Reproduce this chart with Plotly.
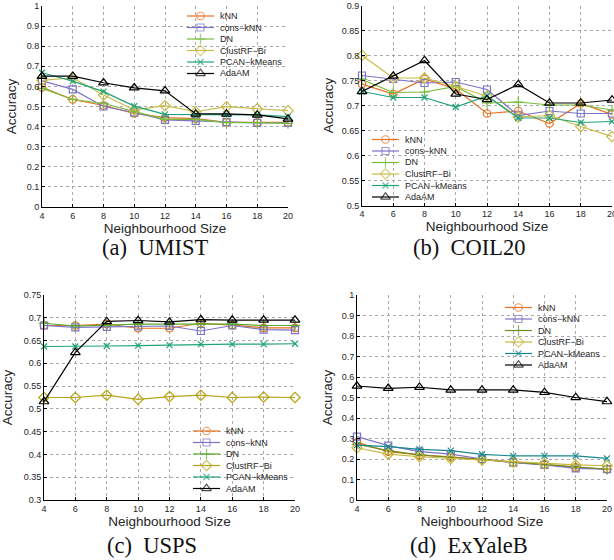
import plotly.graph_objects as go

W, H = 614, 560

# ---------------- data ----------------
sizes = [4, 6, 8, 10, 12, 14, 16, 18, 20]
methods = ["kNN", "cons-kNN", "DN", "ClustRF-Bi", "PCAN-kMeans", "AdaAM"]
legend_labels = ["kNN", "cons\u2212kNN", "DN", "ClustRF\u2212Bi", "PCAN\u2212kMeans", "AdaAM"]

umist_knn = [0.595, 0.535, 0.505, 0.466, 0.445, 0.440, 0.421, 0.421, 0.421]
umist_cons = [0.628, 0.585, 0.500, 0.470, 0.433, 0.428, 0.423, 0.418, 0.418]
umist_dn = [0.590, 0.535, 0.515, 0.475, 0.436, 0.436, 0.420, 0.420, 0.416]
umist_clust = [0.630, 0.643, 0.557, 0.483, 0.504, 0.474, 0.499, 0.488, 0.479]
umist_pcan = [0.668, 0.626, 0.574, 0.502, 0.461, 0.461, 0.461, 0.458, 0.450]
umist_adaam = [0.651, 0.651, 0.618, 0.593, 0.578, 0.463, 0.463, 0.458, 0.438]

coil_knn = [0.743, 0.723, 0.753, 0.733, 0.684, 0.689, 0.664, 0.704, 0.682]
coil_cons = [0.760, 0.753, 0.745, 0.747, 0.732, 0.680, 0.689, 0.684, 0.684]
coil_dn = [0.752, 0.726, 0.727, 0.738, 0.705, 0.707, 0.701, 0.701, 0.691]
coil_clust = [0.800, 0.755, 0.755, 0.738, 0.719, 0.677, 0.680, 0.658, 0.638]
coil_pcan = [0.728, 0.716, 0.716, 0.697, 0.719, 0.675, 0.675, 0.666, 0.668]
coil_adaam = [0.728, 0.759, 0.790, 0.723, 0.712, 0.742, 0.705, 0.705, 0.711]

usps_knn = [0.683, 0.683, 0.686, 0.677, 0.677, 0.688, 0.684, 0.678, 0.678]
usps_cons = [0.683, 0.679, 0.680, 0.681, 0.682, 0.671, 0.683, 0.674, 0.673]
usps_dn = [0.688, 0.682, 0.684, 0.686, 0.686, 0.686, 0.686, 0.683, 0.683]
usps_clust = [0.525, 0.525, 0.530, 0.521, 0.527, 0.530, 0.525, 0.526, 0.525]
usps_pcan = [0.637, 0.637, 0.638, 0.639, 0.640, 0.642, 0.642, 0.642, 0.643]
usps_adaam = [0.516, 0.624, 0.692, 0.694, 0.691, 0.696, 0.695, 0.695, 0.695]

yale_knn = [0.281, 0.236, 0.220, 0.211, 0.200, 0.184, 0.174, 0.159, 0.151]
yale_cons = [0.309, 0.265, 0.236, 0.224, 0.200, 0.182, 0.171, 0.154, 0.150]
yale_dn = [0.272, 0.241, 0.220, 0.208, 0.198, 0.187, 0.174, 0.163, 0.150]
yale_clust = [0.255, 0.224, 0.211, 0.203, 0.195, 0.184, 0.176, 0.171, 0.167]
yale_pcan = [0.268, 0.260, 0.247, 0.241, 0.223, 0.215, 0.215, 0.215, 0.203]
yale_adaam = [0.556, 0.545, 0.550, 0.537, 0.537, 0.537, 0.525, 0.500, 0.480]

captions = ["(a)\u00a0 UMIST", "(b)\u00a0 COIL20", "(c)\u00a0 USPS", "(d)\u00a0 ExYaleB"]
x_title = "Neighbourhood Size"
y_title = "Accuracy"

# ---------------- styles ----------------
symbols = ["circle-open", "square-open", "cross-thin-open", "diamond-open",
           "x-thin-open", "triangle-up-open"]
msizes = [7.5, 7, 7.5, 8, 6, 8.5]
pal_std = ["#E8701E", "#7B74C8", "#78BC3A", "#C9BB48", "#1FA37A", "#000000"]
pal_c = ["#E8701E", "#7B74C8", "#5AA82C", "#B5A418", "#1FA37A", "#000000"]
pal_d = ["#E8701E", "#7B74C8", "#6B8E23", "#C8B83C", "#17898F", "#000000"]

panels = [
    dict(data=[umist_knn, umist_cons, umist_dn, umist_clust, umist_pcan, umist_adaam],
         box=(42, 288, 6, 207), yr=(0, 1), dy=0.1, pal=pal_std,
         leg=(187, 16.0), cap=(155, 247), standoff=6),
    dict(data=[coil_knn, coil_cons, coil_dn, coil_clust, coil_pcan, coil_adaam],
         box=(362, 612, 5.5, 205.5), yr=(0.5, 0.9), dy=0.05, pal=pal_std,
         leg=(372, 139.5), cap=(469, 247), standoff=4),
    dict(data=[usps_knn, usps_cons, usps_dn, usps_clust, usps_pcan, usps_adaam],
         box=(44, 295, 295, 500), yr=(0.3, 0.75), dy=0.05, pal=pal_c,
         leg=(193, 431.0), cap=(152, 545), standoff=7),
    dict(data=[yale_knn, yale_cons, yale_dn, yale_clust, yale_pcan, yale_adaam],
         box=(357, 607, 295, 500), yr=(0, 1), dy=0.1, pal=pal_d,
         leg=(505, 307.5), cap=(469, 545), standoff=5),
]

tick_font = dict(family="Liberation Sans, Arial, sans-serif", size=9, color="#262626")
title_font = dict(family="Liberation Sans, Arial, sans-serif", size=13.5, color="#262626")
leg_font = dict(family="Liberation Sans, Arial, sans-serif", size=9, color="#262626")
cap_font = dict(family="Liberation Serif, Times New Roman, serif", size=22.5, color="#111111")

fig = go.Figure()
layout = dict(template="none", width=W, height=H, autosize=False,
              margin=dict(l=0, r=0, t=0, b=0, pad=0),
              paper_bgcolor="white", plot_bgcolor="rgba(0,0,0,0)",
              showlegend=False, annotations=[])

LEG_LINE = 27
LEG_GAP = 3.5
LEG_STEP = 11.5

for i, p in enumerate(panels):
    n = i + 1
    xa = "x" if n == 1 else f"x{n}"
    ya = "y" if n == 1 else f"y{n}"
    x0, x1, y0, y1 = p["box"]
    xdom = [x0 / W, x1 / W]
    ydom = [1 - y1 / H, 1 - y0 / H]
    common = dict(showline=True, linecolor="black", linewidth=1, mirror=False,
                  ticks="inside", ticklen=3, tickcolor="black", tickwidth=1,
                  showgrid=True, gridcolor="#a8a8a8", griddash="dot", gridwidth=1,
                  zeroline=False, tickfont=tick_font, fixedrange=True,
                  automargin=False, ticklabeloverflow="allow")
    layout["xaxis" if n == 1 else f"xaxis{n}"] = dict(
        common, domain=xdom, anchor=ya, range=[sizes[0], sizes[-1]],
        tick0=4, dtick=2, title=dict(text=x_title, font=title_font, standoff=3))
    layout["yaxis" if n == 1 else f"yaxis{n}"] = dict(
        common, domain=ydom, anchor=xa, range=list(p["yr"]),
        tick0=p["yr"][0], dtick=p["dy"],
        title=dict(text=y_title, font=title_font, standoff=p["standoff"]))
    for k, vals in enumerate(p["data"]):
        fig.add_trace(go.Scatter(
            x=sizes, y=vals, xaxis=xa, yaxis=ya, name=methods[k],
            mode="lines+markers", cliponaxis=False,
            line=dict(color=p["pal"][k], width=1.2),
            marker=dict(symbol=symbols[k], size=msizes[k], color=p["pal"][k],
                        line=dict(width=1.2, color=p["pal"][k]))))
    # caption
    cx, cy = p["cap"]
    layout["annotations"].append(dict(
        text=captions[i], x=cx / W, y=1 - cy / H, xref="paper", yref="paper",
        xanchor="center", yanchor="middle", showarrow=False, font=cap_font))
    # custom compact legend (drawn on a pixel-space overlay axis)
    lx, ly = p["leg"]
    for k in range(len(methods)):
        yy = ly + k * LEG_STEP
        fig.add_trace(go.Scatter(
            x=[lx, lx + LEG_LINE / 2, lx + LEG_LINE], y=[yy, yy, yy],
            xaxis="x5", yaxis="y5", mode="lines+markers", cliponaxis=False,
            hoverinfo="skip", showlegend=False,
            line=dict(color=p["pal"][k], width=1.2),
            marker=dict(symbol=symbols[k], size=[0, msizes[k], 0], color=p["pal"][k],
                        line=dict(width=1.2, color=p["pal"][k]))))
        layout["annotations"].append(dict(
            text=legend_labels[k], x=(lx + LEG_LINE + LEG_GAP) / W, y=1 - yy / H,
            xref="paper", yref="paper", xanchor="left", yanchor="middle",
            showarrow=False, font=leg_font))

layout["xaxis5"] = dict(domain=[0, 1], range=[0, W], visible=False, fixedrange=True,
                        anchor="y5", showgrid=False, zeroline=False, automargin=False)
layout["yaxis5"] = dict(domain=[0, 1], range=[H, 0], visible=False, fixedrange=True,
                        anchor="x5", showgrid=False, zeroline=False, automargin=False)

fig.update_layout(**layout)
fig.write_html(
    "out.html",
    config={"displayModeBar": False},
    post_script="document.body.style.margin='0px';document.body.style.overflow='hidden';",
)
